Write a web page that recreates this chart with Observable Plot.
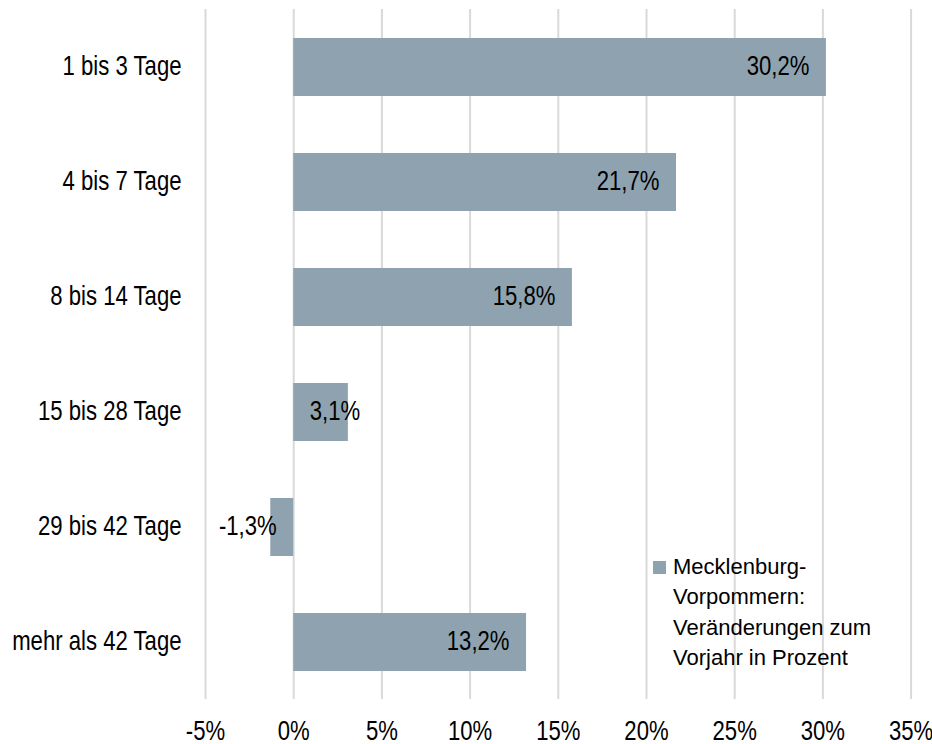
<!DOCTYPE html>
<html>
<head>
<meta charset="utf-8">
<script src="https://cdn.jsdelivr.net/npm/d3@7"></script>
<script src="https://cdn.jsdelivr.net/npm/@observablehq/plot@0.6"></script>
<style>
  html, body { margin: 0; padding: 0; background: #fff; }
  #wrap { position: relative; width: 932px; height: 744px; overflow: hidden; }
  #legend {
    position: absolute; left: 653px; top: 552px;
    font-family: "Liberation Sans", Arial, sans-serif; font-size: 22px; line-height: 30.3px; color: #000;
    display: flex; align-items: flex-start;
  }
  #legend .sw { width: 13px; height: 13px; background: #8EA3AF; margin-top: 9px; margin-right: 7px; flex: none; }
</style>
</head>
<body>
<div id="wrap"></div>
<script>
const categories = ["1 bis 3 Tage", "4 bis 7 Tage", "8 bis 14 Tage", "15 bis 28 Tage", "29 bis 42 Tage", "mehr als 42 Tage"];
const values = [30.2, 21.7, 15.8, 3.1, -1.3, 13.2];
const ticks = [-5, 0, 5, 10, 15, 20, 25, 30, 35];
const seriesName = "Mecklenburg-\nVorpommern:\nVeränderungen zum\nVorjahr in Prozent";

const data = categories.map((c, i) => ({cat: c, v: values[i]}));
const fmt = v => v.toFixed(1).replace(".", ",") + "%";
const barColor = "#8EA3AF";
const font = `"Liberation Sans", Arial, sans-serif`;

const fits = d => Math.abs(d.v) >= 5;

const chart = Plot.plot({
  width: 932,
  height: 744,
  marginTop: 9,
  marginBottom: 45,
  marginLeft: 205,
  marginRight: 21.4,
  style: {fontFamily: font, fontSize: "27px", color: "#000", background: "#fff", overflow: "visible"},
  x: {domain: [-5, 35]},
  y: {domain: categories, paddingInner: 0.5, paddingOuter: 0.25},
  marks: [
    Plot.ruleX(ticks, {x: d => d, stroke: "#d9d9d9", strokeWidth: 2}),
    Plot.barX(data, {y: "cat", x1: 0, x2: "v", fill: barColor}),
    Plot.text(data.filter(fits), {y: "cat", x: "v", text: d => fmt(d.v), textAnchor: "end", dx: -17, dy: -1, fill: "#000"}),
    Plot.text(data.filter(d => !fits(d) && d.v >= 0), {y: "cat", x: 0, text: d => fmt(d.v), textAnchor: "start", dx: 16, dy: -1, fill: "#000"}),
    Plot.text(data.filter(d => !fits(d) && d.v < 0), {y: "cat", x: 0, text: d => fmt(d.v), textAnchor: "end", dx: -17, dy: -1, fill: "#000"}),
    Plot.axisX(ticks, {tickSize: 0, tickPadding: 21, tickFormat: d => `${d}%`, label: null, fill: "#000"}),
    Plot.axisY({tickSize: 0, tickPadding: 24, dy: -1, label: null, fill: "#000"})
  ]
});

const wrap = document.getElementById("wrap");
wrap.appendChild(chart);

// condense the chart texts horizontally (narrow typeface look), anchored at each text's anchor point
const SX = 0.82;
chart.querySelectorAll("text").forEach(t => {
  const bb = t.getBBox();
  const anchor = getComputedStyle(t).textAnchor;
  let ax = bb.x;
  if (anchor === "end") ax = bb.x + bb.width;
  else if (anchor === "middle") ax = bb.x + bb.width / 2;
  const prev = t.getAttribute("transform") || "";
  t.setAttribute("transform", `${prev} translate(${ax},0) scale(${SX},1) translate(${-ax},0)`.trim());
});

const legend = document.createElement("div");
legend.id = "legend";
const sw = document.createElement("div");
sw.className = "sw";
const txt = document.createElement("div");
txt.innerHTML = seriesName.split("\n").join("<br>");
legend.appendChild(sw);
legend.appendChild(txt);
wrap.appendChild(legend);
</script>
</body>
</html>
